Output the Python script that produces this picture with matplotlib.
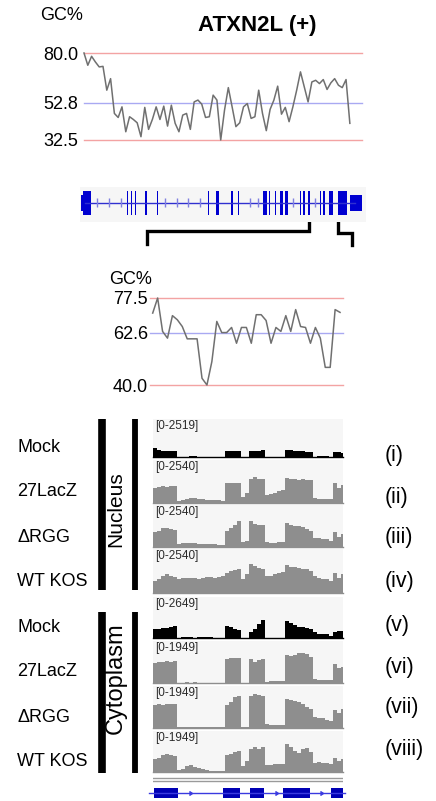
import numpy as np
import matplotlib
matplotlib.use("Agg")
import matplotlib.pyplot as plt

plt.rcParams['font.family'] = ['Liberation Sans', 'DejaVu Sans']

W, H = 436, 801

# ---------------- data ---------------- #
gc_top = [80.0, 73.3, 78.2, 75.1, 72.4, 72.7, 59.7, 66.0, 47.0, 44.8, 50.6, 37.0,
          45.2, 43.7, 41.9, 34.3, 50.3, 38.3, 43.7, 50.6, 43.7, 51.0, 40.1, 51.5,
          41.6, 37.0, 46.1, 47.0, 38.3, 53.3, 54.3, 52.1, 44.8, 45.2, 57.0, 54.3,
          32.5, 48.8, 61.1, 50.6, 39.8, 41.9, 50.6, 52.4, 44.3, 45.2, 59.7, 47.0,
          37.6, 49.2, 54.3, 61.9, 46.6, 50.3, 42.5, 50.6, 59.7, 69.7, 61.5, 53.3,
          64.2, 65.1, 63.3, 65.5, 60.1, 63.7, 66.0, 62.4, 61.1, 65.5, 41.6]
gc_top_ticks = [80.0, 52.8, 32.5]

gc_zoom = [71.0, 77.5, 63.1, 60.2, 69.9, 68.1, 65.2, 59.9, 59.9, 59.9, 42.9, 40.0,
           50.1, 67.4, 62.6, 62.6, 64.8, 58.0, 64.8, 64.8, 58.0, 70.3, 70.3, 67.8,
           58.0, 64.8, 63.1, 69.9, 63.1, 72.5, 65.2, 64.8, 58.0, 64.8, 60.2, 47.6,
           47.6, 72.5, 71.3]
gc_zoom_ticks = [77.5, 62.6, 40.0]

# whole-gene model (gene units)
exon_start = [0.5, 3.0, 46.5, 51.2, 54.6, 64.8, 76.8, 127.8, 136.4, 151.4, 158.0,
              183.0, 189.0, 194.6, 199.8, 204.8, 219.6, 222.6, 228.2, 239.6, 243.2,
              249.2, 258.2, 270.0]
exon_end = [3.0, 10.7, 47.6, 52.4, 55.6, 67.4, 78.0, 129.0, 139.4, 153.4, 159.2,
            186.8, 190.2, 195.8, 202.8, 208.4, 220.8, 225.2, 230.4, 240.8, 245.2,
            252.8, 266.8, 281.8]
exon_utr = [True] + [False] * 22 + [True]
intron_marks = [16.7, 29.3, 40.7, 85.0, 96.7, 108.3, 120.0, 170.0, 178.3, 213.3, 235.0]

# zoomed region gene model (bins)
zexon_start = [0.25, 17.5, 24.25, 32.5, 44.5]
zexon_end = [6.25, 21.75, 27.75, 39.25, 48.0]
zintron_marks = [9.75, 31.25, 42.5]

track_names = ["Mock", "27LacZ", "\u0394RGG", "WT KOS", "Mock", "27LacZ", "\u0394RGG", "WT KOS"]
track_roman = ["(i)", "(ii)", "(iii)", "(iv)", "(v)", "(vi)", "(vii)", "(viii)"]
track_max = [2519, 2540, 2540, 2540, 2649, 1949, 1949, 1949]

cov_nuc_mock = [620, 490, 430, 410, 390, 370, 0, 0, 0, 40, 40, 0, 0, 0, 0, 0, 0, 0,
                390, 430, 430, 430, 0, 0, 390, 430, 410, 470, 0, 0, 0, 0, 0,
                470, 470, 430, 430, 390, 350, 310, 0, 60, 60, 60, 0, 350, 310, 270]
cov_nuc_lacz = [880, 920, 980, 940, 980, 1010, 120, 160, 230, 270, 270, 250, 230, 200,
                160, 160, 160, 140, 1210, 1170, 1170, 1210, 350, 590, 1400, 1560, 1440,
                1400, 490, 550, 620, 700, 780, 1460, 1400, 1400, 1370, 1400, 1370, 1330,
                270, 230, 230, 230, 230, 1170, 880, 1070]
cov_nuc_drgg = [880, 980, 1130, 1130, 1070, 1010, 160, 230, 230, 230, 230, 210, 200, 200,
                180, 160, 140, 120, 940, 1130, 1330, 1560, 290, 350, 1600, 1370, 1330,
                1330, 290, 270, 270, 290, 290, 1460, 1330, 1270, 1270, 1210, 1070, 980,
                550, 550, 510, 470, 390, 880, 590, 780]
cov_nuc_wt = [680, 820, 980, 1070, 1010, 940, 820, 860, 880, 860, 860, 820, 860, 900,
              940, 880, 940, 980, 1170, 1270, 1330, 1370, 820, 1070, 1660, 1560, 1440,
              1370, 980, 1010, 1070, 1130, 1210, 1600, 1520, 1480, 1440, 1400, 1370, 1290,
              980, 880, 820, 780, 680, 1170, 880, 1070]
cov_cyt_mock = [570, 610, 650, 670, 710, 780, 0, 60, 60, 60, 0, 60, 60, 60, 60, 0, 0, 0,
                780, 690, 610, 530, 0, 0, 370, 610, 920, 1180, 0, 0, 0, 0, 0,
                1120, 980, 820, 730, 710, 650, 570, 370, 290, 290, 240, 100, 410, 450, 450]
cov_cyt_lacz = [930, 990, 960, 1020, 990, 1020, 0, 0, 45, 0, 45, 0, 0, 0, 0, 0, 0, 0,
                1110, 1140, 1140, 1170, 0, 0, 1125, 990, 1050, 1110, 60, 75, 90, 90, 90,
                1320, 1260, 1290, 1380, 1410, 1350, 1200, 180, 150, 150, 150, 120, 870, 675, 750]
cov_cyt_drgg = [1050, 1125, 1080, 1125, 1110, 1125, 45, 45, 45, 45, 45, 45, 45, 45, 45, 45,
                45, 45, 1080, 1200, 1425, 1500, 45, 45, 1500, 1575, 1530, 1500, 180, 150,
                120, 150, 150, 1350, 1290, 1260, 1200, 1110, 990, 900, 525, 480, 450, 390,
                330, 825, 675, 870]
cov_cyt_wt = [600, 675, 825, 870, 825, 750, 90, 150, 300, 330, 240, 180, 120, 75, 45, 30,
              30, 30, 825, 870, 930, 975, 300, 525, 1080, 1200, 1080, 1170, 330, 330, 360,
              360, 375, 1350, 1200, 1020, 900, 1080, 1125, 930, 450, 480, 450, 420, 375,
              675, 525, 600]
coverages = [cov_nuc_mock, cov_nuc_lacz, cov_nuc_drgg, cov_nuc_wt,
             cov_cyt_mock, cov_cyt_lacz, cov_cyt_drgg, cov_cyt_wt]

# ---------------- helpers ---------------- #
fig = plt.figure(figsize=(W / 100, H / 100), dpi=100)


def px_axes(left, top, right, bottom):
    ax = fig.add_axes([left / W, 1 - bottom / H, (right - left) / W, (bottom - top) / H])
    for s in ax.spines.values():
        s.set_visible(False)
    return ax


ov = fig.add_axes([0, 0, 1, 1])
ov.set_xlim(0, W)
ov.set_ylim(H, 0)
ov.axis('off')

RED = '#f3a3a3'
BLUE = '#a9a9f2'
LINE = '#707070'


def gc_panel(ax, vals, ticks, xmin, xmax, pad):
    for v, c in zip(ticks, [RED, BLUE, RED]):
        ax.axhline(v, color=c, lw=1, clip_on=False, zorder=1)
    ax.plot(np.arange(len(vals)), vals, color=LINE, lw=1.1, clip_on=False, zorder=2)
    ax.set_xlim(xmin, xmax)
    ax.set_ylim(min(ticks), max(ticks))
    ax.set_yticks(ticks)
    ax.set_yticklabels([f"{t:.1f}" for t in ticks])
    ax.set_xticks([])
    ax.tick_params(length=0, pad=pad, labelsize=13)
    ax.patch.set_alpha(0)


# ---------------- top GC ---------------- #
ov.text(62, 16, "GC%", fontsize=13, ha='center', va='center')
ov.text(257, 26, "ATXN2L (+)", fontsize=16, fontweight='bold', ha='center', va='center')
ax1 = px_axes(84, 53, 362, 140)
gc_panel(ax1, gc_top, gc_top_ticks, 0, 73.2, 4.3)

# ---------------- gene model ---------------- #
axg = px_axes(80, 187, 366, 222)
axg.set_facecolor('#f6f6f6')
axg.set_xlim(0, 286)
axg.set_ylim(-1, 1)
axg.set_xticks([])
axg.set_yticks([])
axg.plot([5, 275], [0.1, 0.1], color='#3030d0', lw=1)
axg.vlines(intron_marks, -0.15, 0.35, color='#8080e0', lw=1)
for s, e, u in zip(exon_start, exon_end, exon_utr):
    hh = 0.45 if u else 0.7
    axg.add_patch(plt.Rectangle((s, 0.1 - hh), e - s, 2 * hh, color='#0000d0', lw=0))

# brackets
ov.plot([147, 147, 309, 309], [244, 231, 231, 220], color='black', lw=2.4,
        solid_joinstyle='miter')
ov.plot([338, 338, 352, 352], [220, 233, 233, 245], color='black', lw=2.4,
        solid_joinstyle='miter')

# ---------------- zoomed GC ---------------- #
ov.text(131, 280, "GC%", fontsize=13, ha='center', va='center')
ax2 = px_axes(150, 298, 343, 385)
gc_panel(ax2, gc_zoom, gc_zoom_ticks, -0.55, 38.6, 1.5)

# ---------------- coverage tracks ---------------- #
track_tops = [419, 460, 505, 549, 597, 641, 686, 731]
track_bottoms = [457, 503, 547, 593, 638, 683, 728, 772]
name_y = [447, 492, 537, 582, 627, 672, 717, 762]
roman_y = [455, 497, 538, 582, 625, 667, 708, 750]

for i, cov in enumerate(coverages):
    ax = px_axes(153, track_tops[i], 343, track_bottoms[i])
    ax.set_facecolor('#f6f6f6')
    col = 'black' if track_names[i] == "Mock" else '#8e8e8e'
    ax.stairs(cov, np.arange(len(cov) + 1), fill=True, color=col, lw=0)
    ax.axhline(0, color=col, lw=1, clip_on=False)
    ax.set_xlim(0, 47.5)
    ax.set_ylim(0, track_max[i])
    ax.set_xticks([])
    ax.set_yticks([])
    ax.text(0.5, track_max[i] * 0.97, f"[0-{track_max[i]}]", fontsize=8.5, va='top',
            ha='left', color='#2a2a2a')
    ov.text(17, name_y[i], track_names[i], fontsize=13, ha='left', va='center')
    ov.text(385, roman_y[i], track_roman[i], fontsize=15.5, ha='left', va='center')

# group bars
for y0, y1 in [(419, 590), (612, 773)]:
    ov.plot([102, 102], [y0, y1], color='black', lw=5.5, solid_capstyle='butt')
    ov.plot([134.5, 134.5], [y0, y1], color='black', lw=4.2, solid_capstyle='butt')
ov.text(116, 509, "Nucleus", fontsize=15, rotation=90, ha='center', va='center')
ov.text(116, 678, "Cytoplasm", fontsize=17, rotation=90, ha='center', va='center')

# bottom gene model for zoomed region
axz = px_axes(153, 775, 343, 800)
axz.set_xlim(0, 47.5)
axz.set_ylim(-1, 1)
axz.set_xticks([])
axz.set_yticks([])
axz.patch.set_alpha(0)
axz.axhline(0.76, color='#9a9a9a', lw=1)
axz.axhline(0.52, color='#9a9a9a', lw=1)
axz.plot([-1, 48], [-0.45, -0.45], color='#3a3ae0', lw=1, clip_on=False)
axz.plot(zintron_marks, [-0.45] * len(zintron_marks), marker=5, ls='none',
         color='#3a3ae0', ms=3)
for s, e in zip(zexon_start, zexon_end):
    axz.add_patch(plt.Rectangle((s, -0.85), e - s, 0.8, color='#0000b4', lw=0))

fig.savefig("out.png", dpi=100)
